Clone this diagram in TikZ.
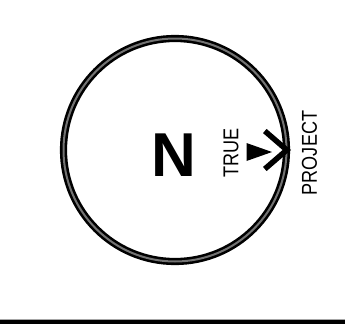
\documentclass[tikz,border=0pt]{standalone}
\usepackage{fontspec}
\setmainfont{Liberation Sans}
\begin{document}
\begin{tikzpicture}[x=1pt,y=-1pt,
  ring/.style={draw=black, line width=2.6pt, double=black!55, double distance=2pt},
  bigletter/.style={font=\fontsize{62}{62}\selectfont\bfseries, inner sep=0pt},
  sidelabel/.style={font=\fontsize{21.5}{21.5}\selectfont, inner sep=0pt, rotate=90},
  chev/.style={line width=5.5pt, line join=miter, line cap=butt}
]
\useasboundingbox (0,0) rectangle (345,324);
\fill[white] (0,0) rectangle (345,324);
\node[circle, ring, minimum size=223pt, inner sep=0pt] (c) at (175,150) {};
\node[bigletter] (n) at (174,155) {N};
\node[sidelabel] (true) at (231,153) {\scalebox{0.84}[1]{TRUE}};
\node[sidelabel] (proj) at (309.5,153) {\scalebox{0.84}[1]{PROJECT}};
\coordinate (tip) at (c.east);
\coordinate (tail) at (246.5,152);
\fill (tail) ++(0,-9) -- ++(25.5,9) -- ++(-25.5,9) -- cycle;
\draw[chev] ([shift={(-23,-19)}]tip) -- ([shift={(-1,0)}]tip) -- ([shift={(-23,19)}]tip);
\fill[gray!70] (0,318.8) rectangle (345,320);
\fill[black] (0,320) rectangle (345,324);
\end{tikzpicture}
\end{document}
